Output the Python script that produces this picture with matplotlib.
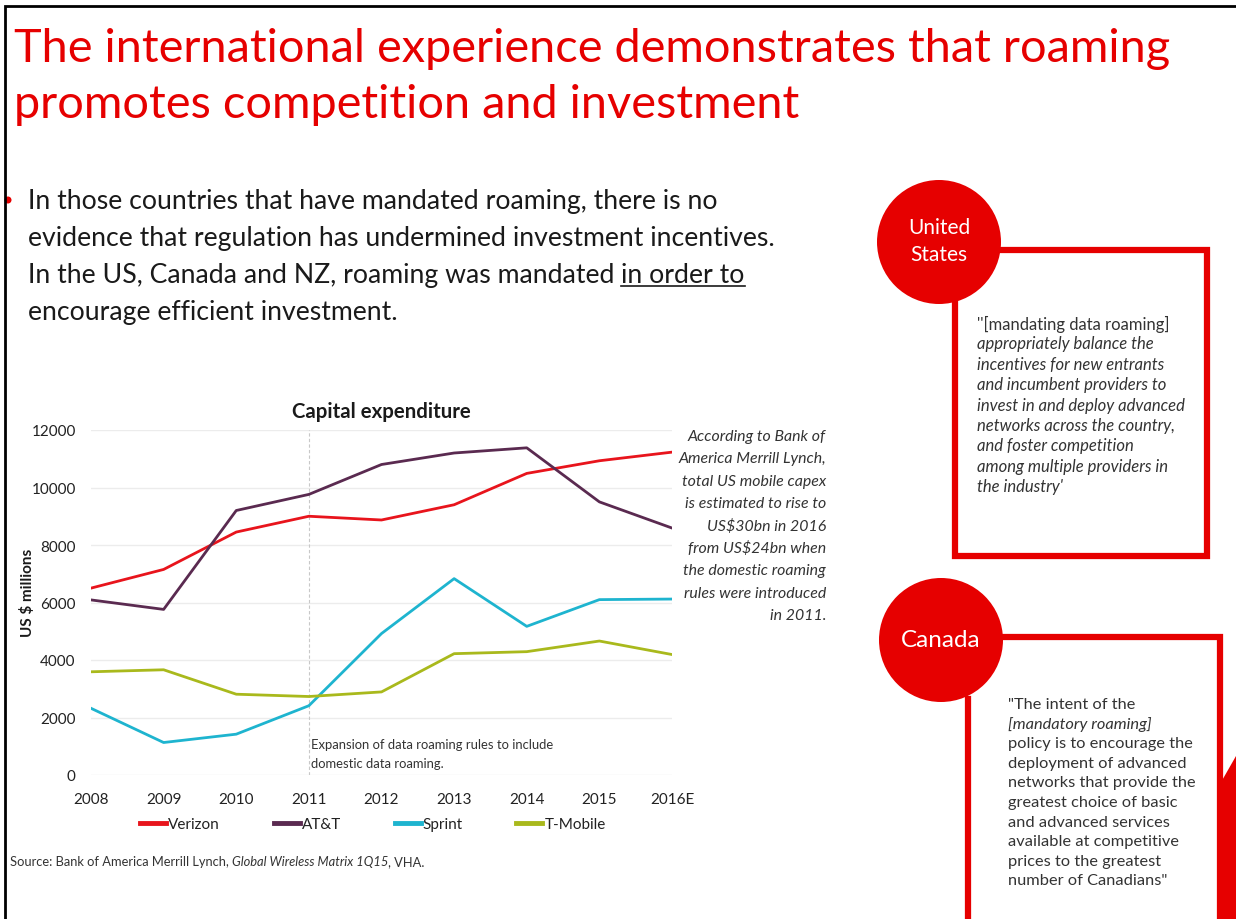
import matplotlib
matplotlib.use('Agg')
import matplotlib.pyplot as plt
from matplotlib.patches import Circle, Polygon

# data
years = ['2008', '2009', '2010', '2011', '2012', '2013', '2014', '2015', '2016E']
verizon = [6500, 7150, 8450, 9000, 8870, 9400, 10490, 10930, 11230]
att = [6090, 5760, 9200, 9760, 10800, 11200, 11380, 9500, 8590]
sprint = [2320, 1130, 1420, 2410, 4920, 6830, 5170, 6100, 6120]
tmobile = [3590, 3660, 2810, 2730, 2890, 4220, 4290, 4660, 4190]
series = ['Verizon', 'AT&T', 'Sprint', 'T-Mobile']
colors = ['#e8141c', '#5a2a50', '#1eb4cf', '#a9b91c']
yticks = [0, 2000, 4000, 6000, 8000, 10000, 12000]

RED = '#e60000'
TXT = '#333333'
W, H = 1236, 920

plt.rcParams['font.family'] = ['Lato', 'DejaVu Sans']
fig = plt.figure(figsize=(W / 100, H / 100), dpi=100)

# overlay in pixel coordinates for the slide decorations
ov = fig.add_axes([0, 0, 1, 1])
ov.set_xlim(0, W)
ov.set_ylim(H, 0)
ov.axis('off')
renderer = fig.canvas.get_renderer()


def fit(t, width):
    # scale a text's font size so it spans the given pixel width
    w = t.get_window_extent(renderer).width
    t.set_fontsize(t.get_fontsize() * width / w)
    return t.get_fontsize()


def runs(x, y, parts, underline=None, **kw):
    # draw consecutive text pieces with different styles
    for txt, style in parts:
        t = ov.text(x, y, txt, fontstyle=style, **kw)
        w = t.get_window_extent(renderer).width
        if underline is not None and txt == underline:
            ov.plot([x, x + w], [y + 4, y + 4], color=kw.get('color', 'k'), lw=1.2)
        x += w
    return x


# slide frame
ov.plot([5, 5, W], [H, 7, 7], color='black', lw=2, solid_joinstyle='miter')

# title
t1 = ov.text(14, 62, 'The international experience demonstrates that roaming',
             color=RED, fontsize=37, va='baseline')
tsize = fit(t1, 1156)
ov.text(14, 118, 'promotes competition and investment',
        color=RED, fontsize=tsize, va='baseline')

# bullet
ov.add_patch(Circle((8, 201), 3.5, color=RED, lw=0))
b1 = ov.text(28, 209, 'In those countries that have mandated roaming, there is no',
             color='#1a1a1a', fontsize=17, va='baseline')
bsize = fit(b1, 689)
body = dict(color='#1a1a1a', fontsize=bsize, va='baseline')
ov.text(28, 246, 'evidence that regulation has undermined investment incentives.', **body)
runs(28, 283, [('In the US, Canada and NZ, roaming was mandated ', 'normal'),
               ('in order to', 'normal')], underline='in order to', **body)
ov.text(28, 320, 'encourage efficient investment.', **body)

# United States panel
ov.plot([1003, 1207, 1207, 955, 955], [251, 251, 557, 557, 303], color=RED, lw=4.5,
        solid_joinstyle='miter')
ov.add_patch(Circle((939, 243), 62, color=RED, lw=0))
ov.text(939, 228, 'United', color='white', fontsize=15, ha='center', va='center')
ov.text(939, 255, 'States', color='white', fontsize=15, ha='center', va='center')
us_lines = ["''[mandating data roaming]", 'appropriately balance the',
            'incentives for new entrants', 'and incumbent providers to',
            'invest in and deploy advanced', 'networks across the country,',
            'and foster competition', 'among multiple providers in', "the industry'"]
for i, line in enumerate(us_lines):
    ov.text(977, 324 + i * 20.4, line, color=TXT, fontsize=12, va='center',
            fontstyle='normal' if i == 0 else 'italic')

# Canada panel
ov.plot([1003, 1220, 1220], [638, 638, H], color=RED, lw=4.5, solid_joinstyle='miter')
ov.plot([968, 968], [700, H], color=RED, lw=4.5)
ov.add_patch(Circle((941, 641), 62, color=RED, lw=0))
ov.text(941, 641, 'Canada', color='white', fontsize=17.5, ha='center', va='center')
ov.add_patch(Polygon([(1220, 785), (1236, 757), (1236, H), (1220, H)], color=RED, lw=0))
ca_lines = ['"The intent of the', '[mandatory roaming]', 'policy is to encourage the',
            'deployment of advanced', 'networks that provide the',
            'greatest choice of basic', 'and advanced services',
            'available at competitive', 'prices to the greatest',
            'number of Canadians"']
for i, line in enumerate(ca_lines):
    ov.text(1008, 705 + i * 19.6, line, color=TXT, fontsize=11.8, va='center',
            fontstyle='italic' if i == 1 else 'normal')

# chart
ax = fig.add_axes([91 / W, 1 - 776 / H, (672 - 91) / W, (776 - 431) / H])
x = range(len(years))
for name, vals, c in zip(series, [verizon, att, sprint, tmobile], colors):
    ax.plot(x, vals, color=c, lw=2, label=name, zorder=3)
ax.set_xlim(0, len(years) - 1)
ax.set_ylim(0, 12000)
ax.set_yticks(yticks)
ax.set_xticks(list(x))
ax.set_xticklabels(years)
ax.grid(axis='y', color='#ececec', lw=1)
ax.set_axisbelow(True)
for s in ax.spines.values():
    s.set_visible(False)
ax.tick_params(length=0, labelsize=11, labelcolor='#222222')
ax.tick_params(axis='x', pad=12)
ax.tick_params(axis='y', pad=11)
ax.axvline(3, color='#c8c8c8', lw=0.8, ls=(0, (3, 2)), zorder=1)
ax.set_title('Capital expenditure', fontsize=14.7, fontweight='bold', color='#1a1a1a', pad=9)
ov.text(27, 593, 'US $ millions', rotation=90, fontsize=11, fontweight='bold',
        color='#1a1a1a', ha='center', va='center')
ax.text(3.03, 1080, 'Expansion of data roaming rules to include', fontsize=9.4, color=TXT,
        va='center')
ax.text(3.03, 420, 'domestic data roaming.', fontsize=9.4, color=TXT, va='center')
ax.legend(loc='center', bbox_to_anchor=(373 / W, 1 - 825 / H), bbox_transform=fig.transFigure,
          ncol=4, frameon=False, fontsize=11, handlelength=1.7, handletextpad=0.15,
          columnspacing=3.5, labelcolor='#222222')
for lh in ax.get_legend().get_lines():
    lh.set_linewidth(3.5)

# annotation beside chart
note = ['According to Bank of', 'America Merrill Lynch,', 'total US mobile capex',
        'is estimated to rise to', 'US\\$30bn in 2016', 'from US\\$24bn when',
        'the domestic roaming', 'rules were introduced', 'in 2011.']
for i, line in enumerate(note):
    ov.text(826, 437 + i * 22.4, line, color=TXT, fontsize=11.4, fontstyle='italic',
            ha='right', va='center')

# source
runs(10, 862, [('Source: Bank of America Merrill Lynch, ', 'normal'),
               ('Global Wireless Matrix 1Q15', 'italic'), (', VHA.', 'normal')],
     color=TXT, fontsize=9.25, va='center')

fig.savefig('out.png', dpi=100)
